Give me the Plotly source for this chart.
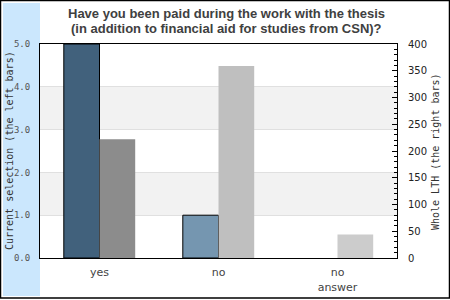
import plotly.graph_objects as go

categories = ["yes", "no", "no answer"]
tick_labels = ["yes", "no", "no<br>answer"]
current_selection = [5.0, 1.0, 0.0]
whole_lth = [222, 359, 44]
left_colors = ["#41617c", "#7596b0", "#7596b0"]
right_colors = ["#8c8c8c", "#bfbfbf", "#cccccc"]
title_lines = ["Have you been paid during the work with the thesis",
               "(in addition to financial aid for studies from CSN)?"]
left_axis_title = "Current selection (the left bars)"
right_axis_title = "Whole LTH (the right bars)"

W, H = 450, 300
L, R, T, B = 40, 53, 44, 42
pw = W - L - R
ph = H - T - B

def px_x(p):
    return (p - L) / pw

def px_y(p):
    return (H - B - p) / ph

fig = go.Figure()
fig.add_trace(go.Bar(
    x=categories, y=current_selection, yaxis="y",
    width=0.3, offset=-0.3,
    marker=dict(color=left_colors,
                line=dict(color="black", width=[1 if v > 0 else 0 for v in current_selection])),
    showlegend=False, hoverinfo="skip"))
fig.add_trace(go.Bar(
    x=categories, y=whole_lth, yaxis="y2",
    width=0.3, offset=0,
    marker=dict(color=right_colors, line=dict(width=0)),
    showlegend=False, hoverinfo="skip"))

shapes = [
    dict(type="rect", xref="paper", yref="paper", x0=px_x(3), x1=px_x(40),
         y0=px_y(296), y1=px_y(3), fillcolor="#cbe7fd", line=dict(width=0), layer="below"),
    dict(type="rect", xref="paper", yref="y", x0=0, x1=1, y0=1, y1=2,
         fillcolor="#f2f2f2", line=dict(width=0), layer="below"),
    dict(type="rect", xref="paper", yref="y", x0=0, x1=1, y0=3, y1=4,
         fillcolor="#f2f2f2", line=dict(width=0), layer="below"),
    dict(type="rect", xref="paper", yref="paper", x0=px_x(0.5), x1=px_x(449.5),
         y0=px_y(298), y1=px_y(0.5), line=dict(color="black", width=1.5), layer="above"),
]

for line, ypx in zip(title_lines, [13, 28]):
    fig.add_annotation(
        text="<b>" + line + "</b>", xref="paper", yref="paper",
        x=px_x(226), y=px_y(ypx), xanchor="center", yanchor="middle",
        showarrow=False, align="center",
        font=dict(family="Liberation Sans", size=13, color="#404040"))

fig.add_annotation(
    text=left_axis_title, xref="paper", yref="paper",
    x=px_x(9), y=px_y(151), xanchor="center", yanchor="middle",
    textangle=-90, showarrow=False,
    font=dict(family="DejaVu Sans Mono", size=10, color="#333333"))
fig.add_annotation(
    text=right_axis_title, xref="paper", yref="paper",
    x=px_x(435), y=px_y(152), xanchor="center", yanchor="middle",
    textangle=-90, showarrow=False,
    font=dict(family="DejaVu Sans Mono", size=10, color="#333333"))

fig.update_layout(
    width=W, height=H,
    margin=dict(l=L, r=R, t=T, b=B, pad=0, autoexpand=False),
    paper_bgcolor="white", plot_bgcolor="white",
    xaxis=dict(
        type="category", tickvals=categories, ticktext=tick_labels,
        showline=True, linecolor="black", linewidth=1, mirror=True,
        ticks="", showgrid=False, ticklabelstandoff=4, automargin=False,
        tickfont=dict(family="DejaVu Sans", size=11, color="#444444")),
    yaxis=dict(
        range=[0, 5], dtick=1, tickformat=".1f",
        showline=True, linecolor="black", linewidth=1, mirror=True,
        ticks="", showgrid=True, gridcolor="#e0e0e0", zeroline=False,
        ticklabelstandoff=7, automargin=False,
        tickfont=dict(family="DejaVu Sans Mono", size=9, color="#555555")),
    yaxis2=dict(
        range=[0, 400], dtick=50, overlaying="y", side="right",
        showline=True, linecolor="black", linewidth=1,
        ticks="inside", ticklen=5, tickcolor="black", tickwidth=1,
        minor=dict(dtick=10, ticks="inside", ticklen=3, tickcolor="black"),
        showgrid=False, zeroline=False, ticklabelstandoff=8, automargin=False,
        tickfont=dict(family="DejaVu Sans", size=10, color="#222222")),
    shapes=shapes,
)

fig.write_html("out.html")
